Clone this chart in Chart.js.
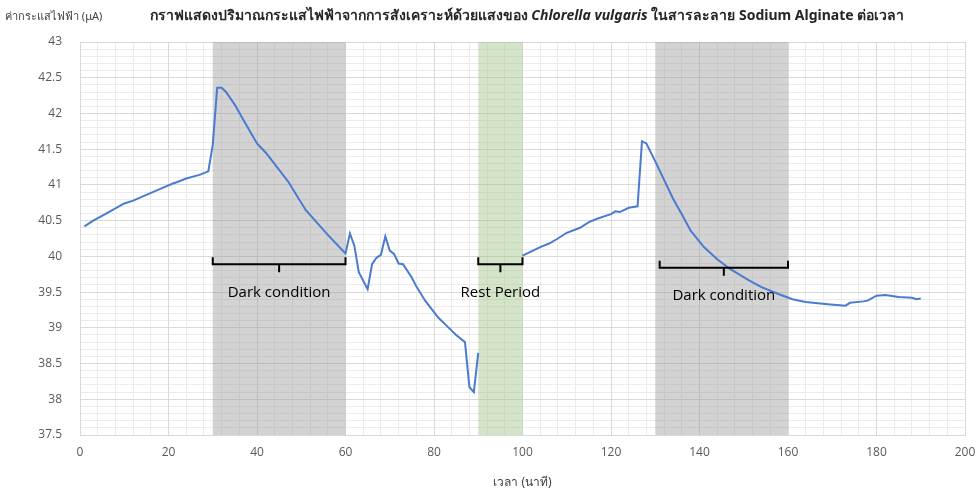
<!DOCTYPE html>
<html>
<head>
<meta charset="utf-8">
<script src="https://cdn.jsdelivr.net/npm/chart.js@4.4.1/dist/chart.umd.min.js"></script>
<style>
  html, body { margin: 0; padding: 0; background: #fff; }
  #wrap { width: 976px; height: 494px; position: relative; }
</style>
</head>
<body>
<div id="wrap"><canvas id="currentChart"></canvas></div>
<script>
// time in minutes, and current in microamps (null = no reading)
const times = [1, 3, 6, 10, 12, 15, 18, 21, 22, 24, 27, 29, 30, 31, 32, 33, 35, 37, 40, 42, 47, 51, 56, 60,
  61, 62, 63, 65, 66, 67, 68, 69, 70, 71, 72, 73, 75, 76, 78, 80, 81, 83, 85, 87, 88, 89, 90,
  95,
  100, 102, 104, 106, 108, 110, 113, 115, 117, 120, 121, 122, 124, 126, 127, 128, 130, 132, 134, 136, 138,
  141, 144, 147, 151, 154, 158, 161, 164, 169, 173, 174, 177, 178, 180, 182, 185, 188, 189, 190];
const current = [40.42, 40.50, 40.60, 40.74, 40.78, 40.86, 40.94, 41.02, 41.04, 41.09, 41.14, 41.19, 41.56, 42.36, 42.36, 42.30, 42.12, 41.90, 41.58, 41.45, 41.05, 40.65, 40.30, 40.04,
  40.32, 40.15, 39.78, 39.54, 39.89, 39.98, 40.02, 40.28, 40.08, 40.03, 39.90, 39.89, 39.70, 39.58, 39.38, 39.22, 39.14, 39.02, 38.90, 38.80, 38.17, 38.10, 38.65,
  null,
  40.01, 40.07, 40.13, 40.18, 40.25, 40.33, 40.40, 40.48, 40.53, 40.59, 40.63, 40.62, 40.68, 40.70, 41.61, 41.58, 41.33, 41.07, 40.81, 40.59, 40.36,
  40.13, 39.96, 39.82, 39.67, 39.57, 39.47, 39.40, 39.36, 39.33, 39.31, 39.35, 39.37, 39.38, 39.45, 39.46, 39.43, 39.42, 39.40, 39.41];

// shaded periods [start, end]
const darkPeriods = [[30, 60], [130, 160]];
const restPeriods = [[90, 100]];

// bracket annotations: start, end, level (uA), label, label level (uA)
const bracketLabels = ['Dark condition', 'Rest Period', 'Dark condition'];
const bracketStart = [30, 90, 131];
const bracketEnd = [60, 100, 160];
const bracketLevel = [39.89, 39.89, 39.84];
const labelLevel = [39.49, 39.49, 39.45];

const xTicks = [0, 200, 20];       // min, max, step
const yTicks = [37.5, 43, 0.5];

const points = times.map((t, i) => ({ x: t, y: current[i] }));

const thaiFont = "Tahoma, 'Noto Sans', 'DejaVu Sans', sans-serif";

const periodsPlugin = {
    id: 'periods',
    beforeDatasetsDraw(chart) {
        const { ctx, chartArea, scales } = chart;
        const x = scales.x;
        ctx.save();
        ctx.fillStyle = 'rgba(150, 150, 150, 0.42)';
        darkPeriods.forEach(p => {
            const x0 = x.getPixelForValue(p[0]);
            const x1 = x.getPixelForValue(p[1]);
            ctx.fillRect(x0, chartArea.top, x1 - x0, chartArea.bottom - chartArea.top);
        });
        ctx.fillStyle = 'rgba(160, 195, 135, 0.45)';
        restPeriods.forEach(p => {
            const x0 = x.getPixelForValue(p[0]);
            const x1 = x.getPixelForValue(p[1]);
            ctx.fillRect(x0, chartArea.top, x1 - x0, chartArea.bottom - chartArea.top);
        });
        ctx.restore();
    },
    afterDatasetsDraw(chart) {
        const { ctx, scales } = chart;
        const x = scales.x, y = scales.y;
        ctx.save();
        ctx.strokeStyle = '#000';
        ctx.lineWidth = 2;
        ctx.fillStyle = '#000';
        ctx.font = "15px 'Open Sans', sans-serif";
        ctx.textAlign = 'center';
        ctx.textBaseline = 'middle';
        bracketLabels.forEach((label, i) => {
            const x0 = x.getPixelForValue(bracketStart[i]);
            const x1 = x.getPixelForValue(bracketEnd[i]);
            const xm = (x0 + x1) / 2;
            const yb = y.getPixelForValue(bracketLevel[i]);
            ctx.beginPath();
            ctx.moveTo(x0, yb - 7);
            ctx.lineTo(x0, yb);
            ctx.lineTo(x1, yb);
            ctx.lineTo(x1, yb - 7);
            ctx.moveTo(xm, yb);
            ctx.lineTo(xm, yb + 8);
            ctx.stroke();
            ctx.fillText(label, xm, y.getPixelForValue(labelLevel[i]));
        });
        ctx.restore();
    },
    afterDraw(chart) {
        const { ctx } = chart;
        ctx.save();
        ctx.textBaseline = 'middle';
        // y axis caption, top left
        ctx.fillStyle = '#404040';
        ctx.font = '11px ' + thaiFont;
        ctx.textAlign = 'left';
        ctx.fillText('ค่ากระแสไฟฟ้า (μA)', 5, 17);
        // title in three parts, the species name in italics
        const parts = [
            ['bold 14px ' + thaiFont, 'กราฟแสดงปริมาณกระแสไฟฟ้าจากการสังเคราะห์ด้วยแสงของ '],
            ['italic bold 14px ' + thaiFont, 'Chlorella vulgaris'],
            ['bold 14px ' + thaiFont, ' ในสารละลาย Sodium Alginate ต่อเวลา']
        ];
        let total = 0;
        parts.forEach(p => { ctx.font = p[0]; total += ctx.measureText(p[1]).width; });
        let left = 527 - total / 2;
        ctx.fillStyle = '#262626';
        parts.forEach(p => {
            ctx.font = p[0];
            ctx.fillText(p[1], left, 16);
            left += ctx.measureText(p[1]).width;
        });
        ctx.restore();
    }
};

const ctx = document.getElementById('currentChart').getContext('2d');
const currentChart = new Chart(ctx, {
    type: 'line',
    data: {
        datasets: [{
            label: 'Current',
            data: points,
            borderColor: '#4a7bd0',
            borderWidth: 2,
            pointRadius: 0,
            tension: 0,
            spanGaps: false,
            fill: false
        }]
    },
    options: {
        responsive: true,
        maintainAspectRatio: false,
        animation: false,
        layout: { padding: { top: 42, right: 0, left: 0, bottom: 0 } },
        plugins: {
            legend: { display: false },
            tooltip: { enabled: false }
        },
        scales: {
            xMinor: {
                type: 'linear', position: 'bottom',
                min: xTicks[0], max: xTicks[1],
                ticks: { display: false, stepSize: 4 },
                grid: { color: '#ececec', drawTicks: false },
                border: { display: false },
                afterFit(s) { s.height = 0; s.paddingRight = 0; s.paddingLeft = 0; }
            },
            yMinor: {
                type: 'linear', position: 'left',
                min: yTicks[0], max: yTicks[1],
                ticks: { display: false, stepSize: 0.1 },
                grid: { color: '#ececec', drawTicks: false },
                border: { display: false },
                afterFit(s) { s.width = 0; s.paddingTop = 0; s.paddingBottom = 0; }
            },
            x: {
                type: 'linear',
                min: xTicks[0], max: xTicks[1],
                ticks: { stepSize: xTicks[2], color: '#595959', font: { family: "'Open Sans', sans-serif", size: 12 }, padding: 10 },
                grid: { color: '#d9d9d9', drawTicks: false },
                border: { color: '#d9d9d9' },
                title: { display: true, text: 'เวลา (นาที)', color: '#404040', font: { family: thaiFont, size: 12 }, padding: { top: 12 } },
                afterFit(s) { s.height = 59; s.paddingRight = 11; s.paddingLeft = 0; }
            },
            y: {
                type: 'linear',
                min: yTicks[0], max: yTicks[1],
                ticks: {
                    stepSize: yTicks[2], color: '#595959', font: { family: "'Open Sans', sans-serif", size: 12 }, padding: 18,
                    callback: v => String(Math.round(v * 10) / 10)
                },
                grid: { color: '#d9d9d9', drawTicks: false },
                border: { display: false },
                afterFit(s) { s.width = 80; }
            }
        }
    },
    plugins: [periodsPlugin]
});
</script>
</body>
</html>
